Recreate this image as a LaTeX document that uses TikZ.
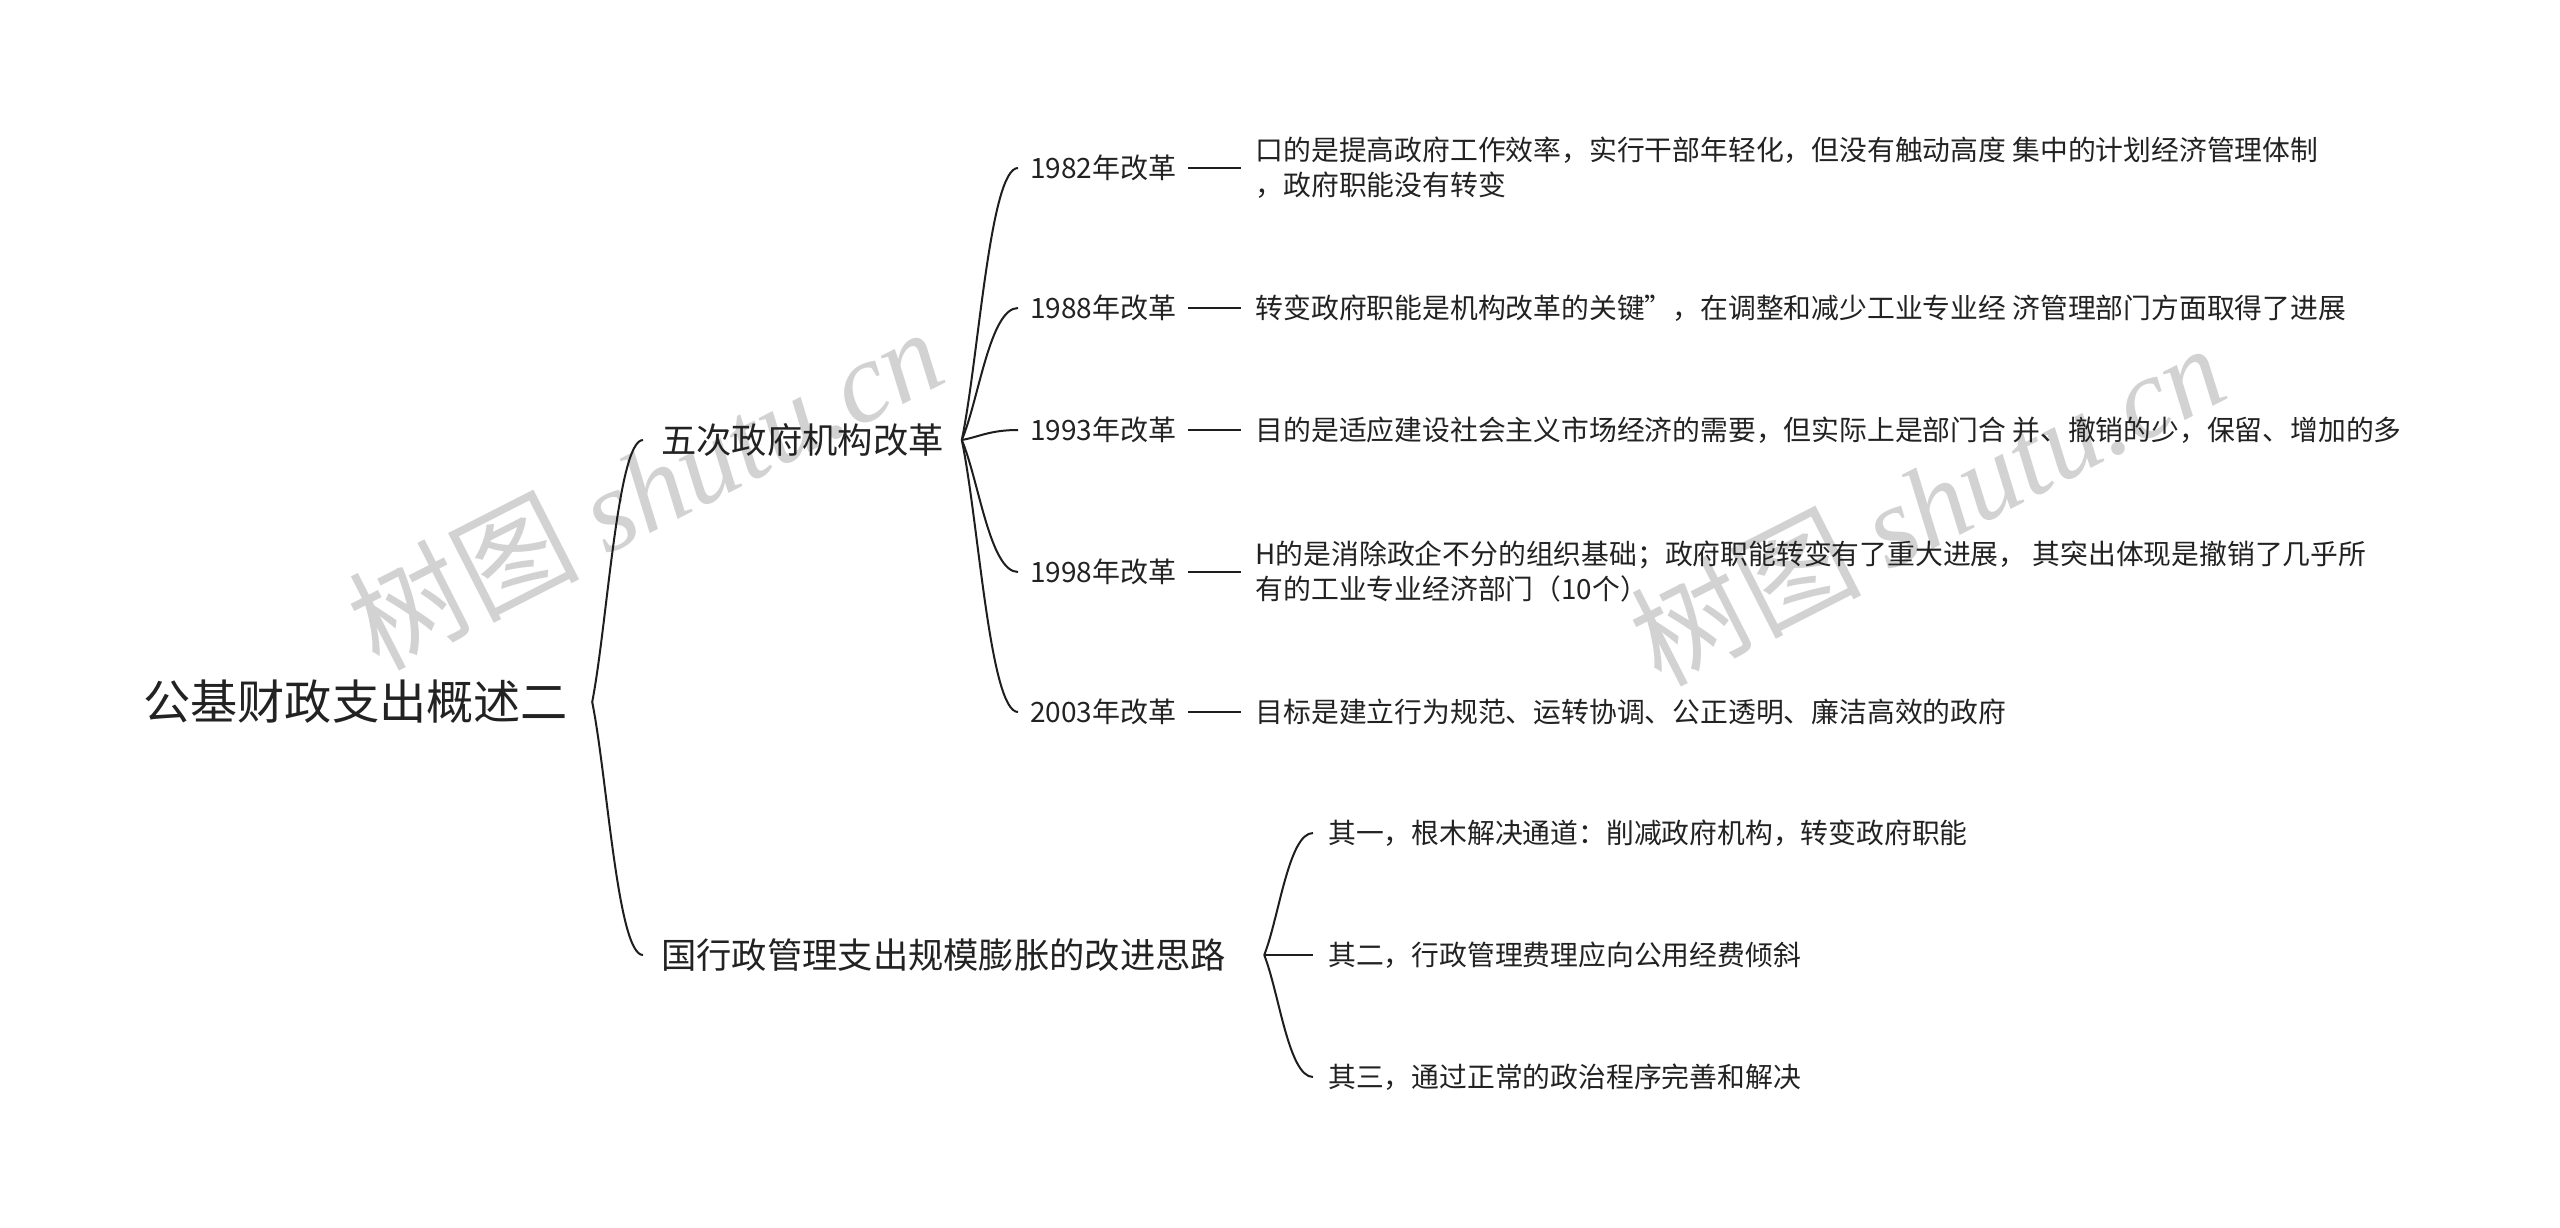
\documentclass[tikz,border=0pt]{standalone}
\usepackage{fontspec}
\setmainfont{Noto Sans CJK SC}
\newfontfamily\wmserif{Liberation Serif}
\usepackage{tikz}
\usetikzlibrary{positioning, calc}
\definecolor{mapInk}{HTML}{222222}
\definecolor{mapLine}{HTML}{1E1E1E}
\definecolor{mapMark}{HTML}{D2D2D2}
\newcommand{\shutumark}{树图 {\wmserif\itshape shutu.cn}}

\begin{document}
\begin{tikzpicture}[x=1pt, y=-1pt,
  rootnode/.style={anchor=west, inner xsep=24pt, text=mapInk,
    font=\fontsize{47.2}{56}\selectfont},
  topic/.style={anchor=west, inner xsep=18pt, text=mapInk,
    font=\fontsize{35.3}{42}\selectfont},
  yearnode/.style={anchor=west, inner xsep=12pt, text width=146pt, align=left,
    text=mapInk, font=\fontsize{28}{35}\selectfont},
  descnode/.style={inner xsep=14pt, align=left, text=mapInk,
    font=\fontsize{27.8}{35}\selectfont},
  leaf/.style={anchor=west, inner xsep=15pt, text=mapInk,
    font=\fontsize{27.8}{35}\selectfont},
  wmark/.style={text=mapMark, rotate=27, font=\fontsize{115}{115}\selectfont},
  bough/.style={to path={.. controls ($(\tikztostart)!0.3!(\tikztotarget)$)
      and ($(\tikztostart |- \tikztotarget)!0.5!(\tikztotarget)$) .. (\tikztotarget)}},
  branchline/.style={draw=mapLine, line width=2pt},
  dashlink/.style={draw=mapLine, line width=2pt}]

  \fill[white] (0,0) rectangle (2560,1228);
  \useasboundingbox (0,0) rectangle (2560,1228);

  \node[wmark] (wm1) at (645,487) {\shutumark};
  \node[wmark] (wm2) at (1927,503) {\shutumark};

  \node[rootnode] (root) at (119,702) {公基财政支出概述二};

  \node[topic] (t1) at (643,440) {五次政府机构改革};
  \node[topic] (t2) at (643,955) {国行政管理支出规模膨胀的改进思路};

  \node[yearnode] (y82) at (1018,168) {1982年改革};
  \node[yearnode] (y88) at (1018,308) {1988年改革};
  \node[yearnode] (y93) at (1018,430) {1993年改革};
  \node[yearnode] (y98) at (1018,572) {1998年改革};
  \node[yearnode] (y03) at (1018,712) {2003年改革};

  \node[descnode, right=53pt of y82] (d82) {口的是提高政府工作效率，实行干部年轻化，但没有触动高度 集中的计划经济管理体制\\，政府职能没有转变};
  \node[descnode, right=53pt of y88] (d88) {转变政府职能是机构改革的关键”，在调整和减少工业专业经 济管理部门方面取得了进展};
  \node[descnode, right=53pt of y93] (d93) {目的是适应建设社会主义市场经济的需要，但实际上是部门合 并、撤销的少，保留、增加的多};
  \node[descnode, right=53pt of y98] (d98) {H的是消除政企不分的组织基础；政府职能转变有了重大进展， 其突出体现是撤销了几乎所\\有的工业专业经济部门（10个）};
  \node[descnode, right=53pt of y03] (d03) {目标是建立行为规范、运转协调、公正透明、廉洁高效的政府};

  \node[leaf] (q1) at (1313,833) {其一，根木解决通道：削减政府机构，转变政府职能};
  \node[leaf] (q2) at (1313,955) {其二，行政管理费理应向公用经费倾斜};
  \node[leaf] (q3) at (1313,1077) {其三，通过正常的政治程序完善和解决};

  \foreach \t in {t1,t2}
    \draw[branchline] (root.east) to[bough] (\t.west);
  \foreach \y in {y82,y88,y93,y98,y03}
    \draw[branchline] (t1.east) to[bough] (\y.west);
  \foreach \q in {q1,q2,q3}
    \draw[branchline] ([xshift=20pt]t2.east) to[bough] (\q.west);
  \foreach \y/\d in {y82/d82,y88/d88,y93/d93,y98/d98,y03/d03}
    \draw[dashlink] (\y.east) -- (\d.west);
\end{tikzpicture}
\end{document}
